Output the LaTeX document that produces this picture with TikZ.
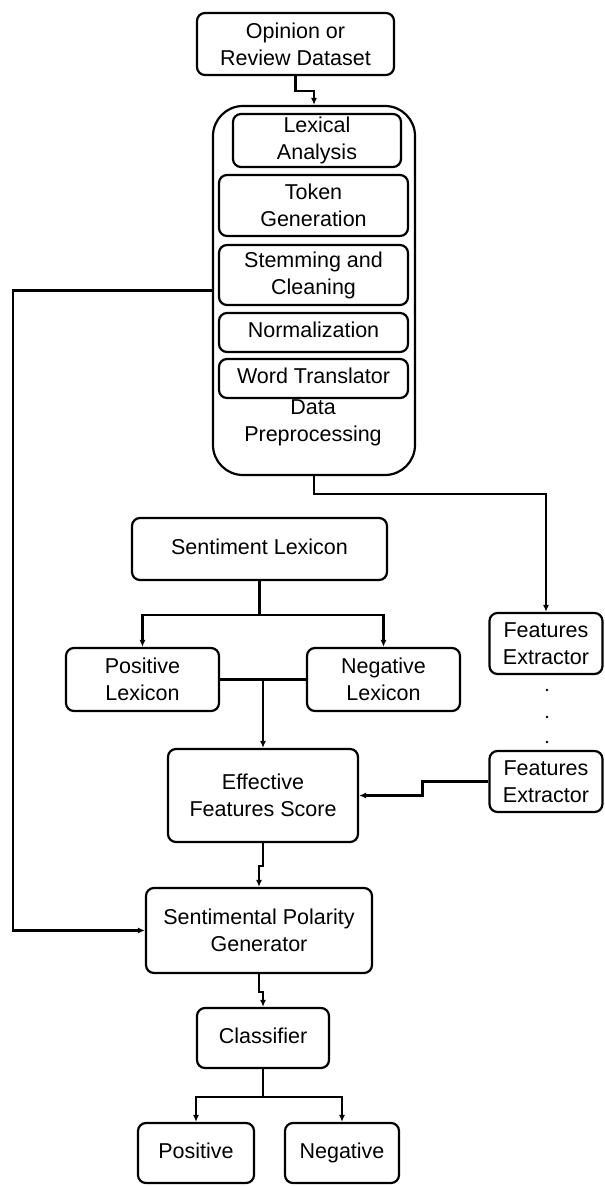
\documentclass[tikz,border=0pt]{standalone}
\usepackage{fontspec}
\setmainfont{Liberation Sans}
\usetikzlibrary{arrows.meta}
\begin{document}
\begin{tikzpicture}[x=0.5pt,y=-0.5pt,
  every node/.style={font=\fontsize{10.75}{13.5}\selectfont, align=center, inner sep=0pt},
  box/.style={draw, line width=1.1pt, rounded corners=4pt},
  bigbox/.style={draw, line width=1.1pt, rounded corners=15pt},
  conn/.style={line width=1.1pt},
  arr/.style={line width=1.1pt, -{Latex[length=3.5pt,width=3pt]}}]
\useasboundingbox (0,0) rectangle (604,1186);
% top
\node[box, minimum width=98.5pt, minimum height=31pt] (op) at (295.5,44) {Opinion or\\Review Dataset};
\node[bigbox, minimum width=101pt, minimum height=184.5pt] (pre) at (314,290.5) {};
\node[box, minimum width=84pt, minimum height=26.5pt] (lex) at (317,140.5) {Lexical\\Analysis};
\node[box, minimum width=94.5pt, minimum height=30.5pt] (tok) at (313.5,205.5) {Token\\Generation};
\node[box, minimum width=94.5pt, minimum height=30pt] (stem) at (313.5,275) {Stemming and\\Cleaning};
\node[box, minimum width=94.5pt, minimum height=19.5pt] (norm) at (313.5,332.5) {Normalization\strut};
\node[box, minimum width=94.5pt, minimum height=19.5pt] (wt) at (313.5,378.5) {Word Translator\strut};
\node (dp) at (313,423) {Data\\Preprocessing};
% middle
\node[box, minimum width=127.5pt, minimum height=31pt] (sl) at (259.5,549) {Sentiment Lexicon\strut};
\node[box, minimum width=76.5pt, minimum height=31.5pt] (pl) at (142.5,679.5) {Positive\\Lexicon};
\node[box, minimum width=76.5pt, minimum height=31.5pt] (nl) at (383.5,679.5) {Negative\\Lexicon};
\node[box, minimum width=56.5pt, minimum height=30.5pt] (fe1) at (546,643.5) {Features\\Extractor};
\node[box, minimum width=56.5pt, minimum height=30.5pt] (fe2) at (546,781.5) {Features\\Extractor};
\node[box, minimum width=95pt, minimum height=46.5pt] (eff) at (263,795.5) {Effective\\Features Score};
% bottom
\node[box, minimum width=113pt, minimum height=42.5pt] (spg) at (259,930.5) {Sentimental Polarity\\Generator};
\node[box, minimum width=66pt, minimum height=30pt] (cls) at (263,1038) {Classifier\strut};
\node[box, minimum width=58pt, minimum height=30pt] (pos) at (196,1153) {Positive\strut};
\node[box, minimum width=57pt, minimum height=30pt] (neg) at (342,1153) {Negative\strut};
% dots
\fill (547,690) circle (1.4);
\fill (547,717) circle (1.4);
\fill (547,742) circle (1.4);
% connectors
\draw[arr] (op.south) -- ++(0,15) -| (pre.north);
\draw[arr] (pre.south) -- ++(0,18) -| (fe1.north);
\coordinate (lft) at (13,290.5);
\draw[arr] (pre.west) -- (lft) |- (spg.west);
\draw[conn] (sl.south) -- ++(0,34) coordinate (sb);
\draw[arr] (sb) -| (pl.north);
\draw[arr] (sb) -| (nl.north);
\draw[conn] (pl.east) -- (nl.west);
\draw[arr] (pl.east -| eff.north) -- (eff.north);
\draw[arr] (fe2.west) -- ++(-66,0) |- (eff.east);
\draw[arr] (eff.south) -- ++(0,23) -| (spg.north);
\draw[arr] (spg.south) -- ++(0,18) -| (cls.north);
\draw[conn] (cls.south) -- ++(0,28) coordinate (cb);
\draw[arr] (cb) -| (pos.north);
\draw[arr] (cb) -| (neg.north);
\end{tikzpicture}
\end{document}
